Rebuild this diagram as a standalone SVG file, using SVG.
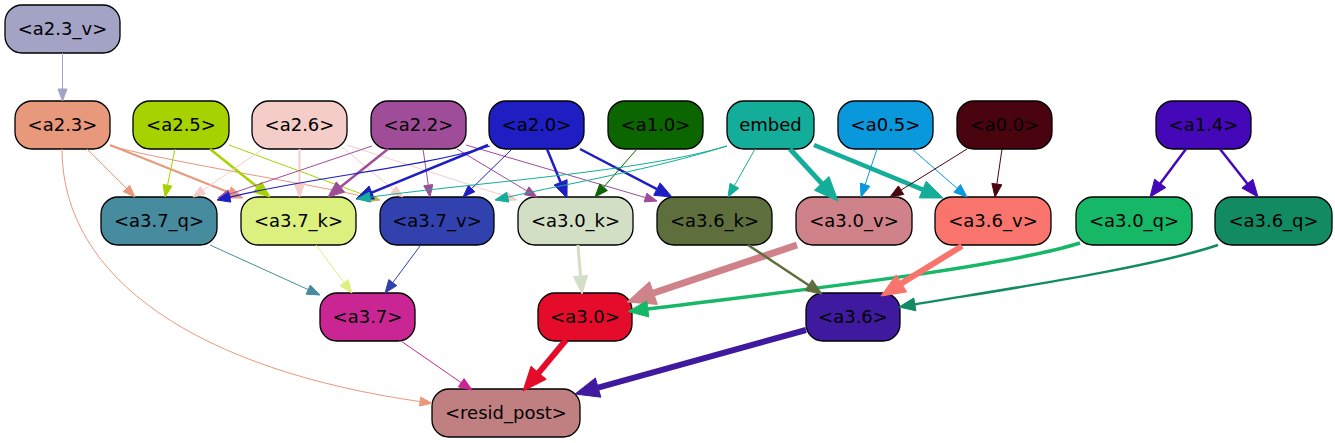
<svg xmlns="http://www.w3.org/2000/svg" width="1335" height="443" viewBox="0 0 1335 443">
<style>
.node rect{stroke:#000;stroke-width:1.3}
.node text{font-family:"DejaVu Sans","Liberation Sans",sans-serif;font-size:18px;text-anchor:middle;fill:#000}
#edges path{fill:none}
</style>
<rect width="1335" height="443" fill="#fff"/>
<g id="n_a2_3_v" class="node"><rect x="5" y="5" width="115" height="48" rx="17" fill="#a3a3c6"/><text x="62.5" y="35">&lt;a2.3_v&gt;</text></g>
<g id="n_a2_3" class="node"><rect x="15" y="101" width="95" height="48" rx="17" fill="#e8997c"/><text x="62.5" y="131">&lt;a2.3&gt;</text></g>
<g id="n_a2_5" class="node"><rect x="133" y="101" width="96" height="48" rx="17" fill="#a6d300"/><text x="181" y="131">&lt;a2.5&gt;</text></g>
<g id="n_a2_6" class="node"><rect x="252" y="101" width="95" height="48" rx="17" fill="#f4cdc8"/><text x="299.5" y="131">&lt;a2.6&gt;</text></g>
<g id="n_a2_2" class="node"><rect x="371" y="101" width="95" height="48" rx="17" fill="#9f4c99"/><text x="418.5" y="131">&lt;a2.2&gt;</text></g>
<g id="n_a2_0" class="node"><rect x="489" y="101" width="95" height="48" rx="17" fill="#1e1ec3"/><text x="536.5" y="131">&lt;a2.0&gt;</text></g>
<g id="n_a1_0" class="node"><rect x="608" y="101" width="95" height="48" rx="17" fill="#0b6600"/><text x="655.5" y="131">&lt;a1.0&gt;</text></g>
<g id="n_embed" class="node"><rect x="727" y="101" width="87" height="48" rx="17" fill="#13ad99"/><text x="770.5" y="131">embed</text></g>
<g id="n_a0_5" class="node"><rect x="838" y="101" width="95" height="48" rx="17" fill="#0a98dd"/><text x="885.5" y="131">&lt;a0.5&gt;</text></g>
<g id="n_a0_0" class="node"><rect x="957" y="101" width="95" height="48" rx="17" fill="#4a0410"/><text x="1004.5" y="131">&lt;a0.0&gt;</text></g>
<g id="n_a1_4" class="node"><rect x="1156" y="101" width="95" height="48" rx="17" fill="#4508b8"/><text x="1203.5" y="131">&lt;a1.4&gt;</text></g>
<g id="n_a3_7_q" class="node"><rect x="101" y="197" width="116" height="48" rx="17" fill="#478b9f"/><text x="159" y="227">&lt;a3.7_q&gt;</text></g>
<g id="n_a3_7_k" class="node"><rect x="241" y="197" width="115" height="48" rx="17" fill="#dcf080"/><text x="298.5" y="227">&lt;a3.7_k&gt;</text></g>
<g id="n_a3_7_v" class="node"><rect x="380" y="197" width="114" height="48" rx="17" fill="#3141ad"/><text x="437" y="227">&lt;a3.7_v&gt;</text></g>
<g id="n_a3_0_k" class="node"><rect x="518" y="197" width="115" height="48" rx="17" fill="#d3dfc5"/><text x="575.5" y="227">&lt;a3.0_k&gt;</text></g>
<g id="n_a3_6_k" class="node"><rect x="657" y="197" width="115" height="48" rx="17" fill="#5e6e3d"/><text x="714.5" y="227">&lt;a3.6_k&gt;</text></g>
<g id="n_a3_0_v" class="node"><rect x="796" y="197" width="116" height="48" rx="17" fill="#d0828a"/><text x="854" y="227">&lt;a3.0_v&gt;</text></g>
<g id="n_a3_6_v" class="node"><rect x="935" y="197" width="116" height="48" rx="17" fill="#f8746d"/><text x="993" y="227">&lt;a3.6_v&gt;</text></g>
<g id="n_a3_0_q" class="node"><rect x="1076" y="197" width="116" height="48" rx="17" fill="#16b766"/><text x="1134" y="227">&lt;a3.0_q&gt;</text></g>
<g id="n_a3_6_q" class="node"><rect x="1215" y="197" width="117" height="48" rx="17" fill="#128b63"/><text x="1273.5" y="227">&lt;a3.6_q&gt;</text></g>
<g id="n_a3_7" class="node"><rect x="320" y="293" width="95" height="48" rx="17" fill="#c92693"/><text x="367.5" y="323">&lt;a3.7&gt;</text></g>
<g id="n_a3_0" class="node"><rect x="538" y="293" width="94" height="48" rx="17" fill="#e40b2b"/><text x="585" y="323">&lt;a3.0&gt;</text></g>
<g id="n_a3_6" class="node"><rect x="806" y="293" width="94" height="48" rx="17" fill="#3f1a9f"/><text x="853" y="323">&lt;a3.6&gt;</text></g>
<g id="n_resid_post" class="node"><rect x="432" y="389" width="148" height="48" rx="17" fill="#c08081"/><text x="506" y="419">&lt;resid_post&gt;</text></g>
<g id="edges">
<g stroke="#a3a3c6" fill="#a3a3c6"><path d="M62.5,53 L62.5,89" stroke-width="1"/><polygon points="62.5,101 58,89 67,89"/></g>
<g stroke="#e8997c" fill="#e8997c"><path d="M87,149 L126.5,188.5" stroke-width="1"/><polygon points="135,197 123.3,191.7 129.7,185.3"/></g>
<g stroke="#e8997c" fill="#e8997c"><path d="M110,145 L229.1,192.45" stroke-width="2"/><polygon points="243,198 226.9,198 231.3,186.9"/></g>
<g stroke="#e8997c" fill="#e8997c"><path d="M110,146 C190,166 290,180 368.3,197.4" stroke-width="1"/><polygon points="380,200 367.3,201.8 369.3,193"/></g>
<g stroke="#e8997c" fill="#e8997c"><path d="M62,149 C62,280 200,370 420.1,401.6" stroke-width="1"/><polygon points="432,403.3 419.5,406.1 420.7,397.1"/></g>
<g stroke="#a6d300" fill="#a6d300"><path d="M175,149 L167.5,185.3" stroke-width="1"/><polygon points="165,197 163.1,184.4 171.9,186.2"/></g>
<g stroke="#a6d300" fill="#a6d300"><path d="M210,149 L257.5,187" stroke-width="2.5"/><polygon points="270,197 253.4,192.1 261.6,181.9"/></g>
<g stroke="#a6d300" fill="#a6d300"><path d="M229,145 L366.7,195.85" stroke-width="1"/><polygon points="378,200 365.1,200.1 368.3,191.6"/></g>
<g stroke="#f4cdc8" fill="#f4cdc8"><path d="M263,149 L202.9,190.2" stroke-width="1"/><polygon points="193,197 200.4,186.5 205.4,193.9"/></g>
<g stroke="#f4cdc8" fill="#f4cdc8"><path d="M299.5,149 L299.5,183" stroke-width="2"/><polygon points="299.5,197 294,183 305,183"/></g>
<g stroke="#f4cdc8" fill="#f4cdc8"><path d="M342,147 L393.5,189.7" stroke-width="1"/><polygon points="403,197 390.8,193.3 396.2,186.1"/></g>
<g stroke="#f4cdc8" fill="#f4cdc8"><path d="M347,145 L505.6,196.3" stroke-width="1"/><polygon points="517,200 504.2,200.6 507,192"/></g>
<g stroke="#9f4c99" fill="#9f4c99"><path d="M372,146 L229.4,194.2" stroke-width="1"/><polygon points="218,198 228,189.9 230.8,198.4"/></g>
<g stroke="#9f4c99" fill="#9f4c99"><path d="M388,149 L340.5,187" stroke-width="2.5"/><polygon points="328,197 336.4,181.9 344.6,192.1"/></g>
<g stroke="#9f4c99" fill="#9f4c99"><path d="M423,149 L428.3,185.1" stroke-width="1"/><polygon points="430,197 423.8,185.8 432.8,184.5"/></g>
<g stroke="#9f4c99" fill="#9f4c99"><path d="M457,149 L526.7,190.8" stroke-width="1"/><polygon points="537,197 524.4,194.7 529,186.9"/></g>
<g stroke="#9f4c99" fill="#9f4c99"><path d="M466,145 L645.5,197.6" stroke-width="1"/><polygon points="657,201 644.2,201.9 646.8,193.3"/></g>
<g stroke="#1e1ec3" fill="#1e1ec3"><path d="M490,146 C420,168 310,177 229.7,197.2" stroke-width="1.2"/><polygon points="217,200 228.6,192.3 230.8,202.1"/></g>
<g stroke="#1e1ec3" fill="#1e1ec3"><path d="M488,145 L371.7,192.6" stroke-width="2.5"/><polygon points="356,199 369.1,186.1 374.4,199.1"/></g>
<g stroke="#1e1ec3" fill="#1e1ec3"><path d="M512,149 L471.6,188.6" stroke-width="1"/><polygon points="463,197 468.4,185.4 474.8,191.8"/></g>
<g stroke="#1e1ec3" fill="#1e1ec3"><path d="M547,149 L560.6,182.3" stroke-width="2.5"/><polygon points="567,198 554.1,185 567.1,179.7"/></g>
<g stroke="#1e1ec3" fill="#1e1ec3"><path d="M580,149 L656.9,189.1" stroke-width="2.5"/><polygon points="672,197 653.7,195.3 660.1,182.9"/></g>
<g stroke="#0b6600" fill="#0b6600"><path d="M637,149 L603.6,187.2" stroke-width="1"/><polygon points="595,197 599.8,183.9 607.4,190.5"/></g>
<g stroke="#13ad99" fill="#13ad99"><path d="M727,146 C640,172 480,182 369.9,197.2" stroke-width="1"/><polygon points="357,199 369.2,192.2 370.6,202.1"/></g>
<g stroke="#13ad99" fill="#13ad99"><path d="M727,146 C650,170 570,183 507.7,197.2" stroke-width="1"/><polygon points="495,200 506.6,192.3 508.8,202.1"/></g>
<g stroke="#13ad99" fill="#13ad99"><path d="M755,149 L734.4,185.7" stroke-width="1"/><polygon points="728,197 730,183.3 738.8,188.2"/></g>
<g stroke="#13ad99" fill="#13ad99"><path d="M790,149 L821.7,183.4" stroke-width="5"/><polygon points="838,201 814.4,190.2 829,176.6"/></g>
<g stroke="#13ad99" fill="#13ad99"><path d="M814,145 L922.7,189.6" stroke-width="4.5"/><polygon points="943,198 919.3,197.9 926.2,181.3"/></g>
<g stroke="#0a98dd" fill="#0a98dd"><path d="M877,149 L865.1,184.7" stroke-width="1"/><polygon points="861,197 860.4,183.1 869.9,186.3"/></g>
<g stroke="#0a98dd" fill="#0a98dd"><path d="M912,149 L957.2,188.4" stroke-width="1"/><polygon points="967,197 953.9,192.2 960.5,184.6"/></g>
<g stroke="#4a0410" fill="#4a0410"><path d="M967,149 L901,190.1" stroke-width="1"/><polygon points="890,197 898.4,185.9 903.7,194.4"/></g>
<g stroke="#4a0410" fill="#4a0410"><path d="M1002,149 L996.9,184.1" stroke-width="1"/><polygon points="995,197 991.9,183.4 1001.8,184.8"/></g>
<g stroke="#4508b8" fill="#4508b8"><path d="M1186,149 L1160.2,183.4" stroke-width="2.5"/><polygon points="1150,197 1154.6,179.2 1165.8,187.6"/></g>
<g stroke="#4508b8" fill="#4508b8"><path d="M1220,149 L1247.4,183.7" stroke-width="2.5"/><polygon points="1258,197 1241.9,188 1252.9,179.3"/></g>
<g stroke="#478b9f" fill="#478b9f"><path d="M210,245 L308.2,289.6" stroke-width="1"/><polygon points="320,295 306.1,294.2 310.3,285.1"/></g>
<g stroke="#dcf080" fill="#dcf080"><path d="M316,245 L344.1,282.7" stroke-width="1"/><polygon points="352,293 340.1,285.8 348.1,279.7"/></g>
<g stroke="#3141ad" fill="#3141ad"><path d="M420,246 L392.8,282.6" stroke-width="1"/><polygon points="385,293 388.8,279.6 396.8,285.6"/></g>
<g stroke="#d3dfc5" fill="#d3dfc5"><path d="M578,245 L580.5,276.1" stroke-width="3"/><polygon points="582,294 573.5,276.7 587.5,275.5"/></g>
<g stroke="#d0828a" fill="#d0828a"><path d="M797,245 L653.5,293" stroke-width="7"/><polygon points="627,302 649.6,281.6 657.4,304.4"/></g>
<g stroke="#16b766" fill="#16b766"><path d="M1080,243 C1000,268 800,290 647.8,309" stroke-width="3.5"/><polygon points="628,311.5 646.8,301.1 648.8,316.9"/></g>
<g stroke="#5e6e3d" fill="#5e6e3d"><path d="M748,245 L808.7,285.2" stroke-width="2.5"/><polygon points="822,294 805.1,290.6 812.3,279.8"/></g>
<g stroke="#f8746d" fill="#f8746d"><path d="M962,246 L901.4,283.4" stroke-width="6"/><polygon points="881,296 896.2,274.9 906.7,291.9"/></g>
<g stroke="#128b63" fill="#128b63"><path d="M1218,245 C1150,268 1000,290 914.8,304.4" stroke-width="2.5"/><polygon points="899,307 913.8,298 915.9,310.8"/></g>
<g stroke="#c92693" fill="#c92693"><path d="M401,341 L461.2,382.7" stroke-width="1"/><polygon points="472,390 458.4,386.8 464,378.6"/></g>
<g stroke="#e40b2b" fill="#e40b2b"><path d="M566,340 L538.6,372.8" stroke-width="6"/><polygon points="523,391 531,366.3 546.2,379.3"/></g>
<g stroke="#3f1a9f" fill="#3f1a9f"><path d="M806,330 L598.1,387.6" stroke-width="6"/><polygon points="575,394 595.4,378 600.8,397.2"/></g>
</g>
</svg>
